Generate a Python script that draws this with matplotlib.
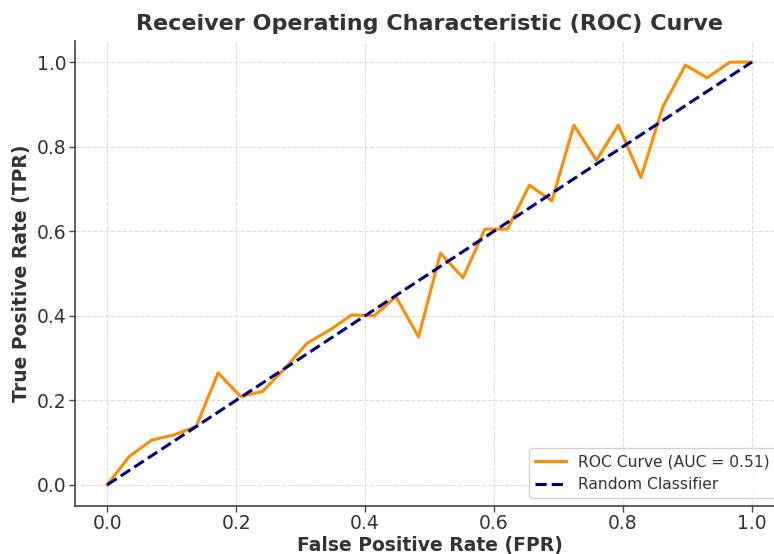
import matplotlib.pyplot as plt

# Данные ROC-кривой
fpr = [0.0, 0.034, 0.069, 0.103, 0.138, 0.172, 0.207, 0.241, 0.276, 0.310,
       0.345, 0.379, 0.414, 0.448, 0.483, 0.517, 0.552, 0.586, 0.621, 0.655,
       0.690, 0.724, 0.759, 0.793, 0.828, 0.862, 0.897, 0.931, 0.966, 1.0]
tpr = [0.0, 0.067, 0.106, 0.118, 0.138, 0.265, 0.209, 0.221, 0.276, 0.335,
       0.366, 0.402, 0.400, 0.445, 0.350, 0.548, 0.490, 0.605, 0.605, 0.709,
       0.672, 0.851, 0.768, 0.851, 0.727, 0.894, 0.993, 0.963, 1.0, 1.0]
diag = [0.0, 1.0]
auc_value = 0.51

text_color = '#333333'
plt.rcParams['font.family'] = ['DejaVu Sans']
plt.rcParams['text.color'] = text_color
plt.rcParams['axes.labelcolor'] = text_color

fig = plt.figure(figsize=(7.74, 5.54), dpi=100)
# ось немного выходит за правый край, как в оригинале
ax = fig.add_axes([0.0969, 0.0866, 0.916, 0.8394])

ax.plot(fpr, tpr, color='darkorange', lw=2.2, label=f'ROC Curve (AUC = {auc_value:.2f})')
ax.plot(diag, diag, color='navy', lw=2.2, linestyle='--', label='Random Classifier')

ax.set_xlim(-0.05, 1.05)
ax.set_ylim(-0.05, 1.05)
ax.set_xticks([0.0, 0.2, 0.4, 0.6, 0.8, 1.0])
ax.set_yticks([0.0, 0.2, 0.4, 0.6, 0.8, 1.0])
ax.tick_params(labelsize=13.5, length=4, width=1, pad=2, colors='#444444', labelcolor=text_color)

ax.set_title('Receiver Operating Characteristic (ROC) Curve', fontsize=16, fontweight='bold', pad=8)
ax.set_xlabel('False Positive Rate (FPR)', fontsize=13.5, fontweight='bold', labelpad=2)
ax.set_ylabel('True Positive Rate (TPR)', fontsize=13.5, fontweight='bold', labelpad=4)

ax.grid(True, linestyle='--', color='#dddddd', linewidth=0.8)
ax.spines['top'].set_visible(False)
ax.spines['right'].set_visible(False)
for side in ['left', 'bottom']:
    ax.spines[side].set_color('#444444')
    ax.spines[side].set_linewidth(1.2)

ax.legend(loc='lower right', fontsize=11.2, framealpha=0.9)

fig.savefig('out.png', dpi=100)
